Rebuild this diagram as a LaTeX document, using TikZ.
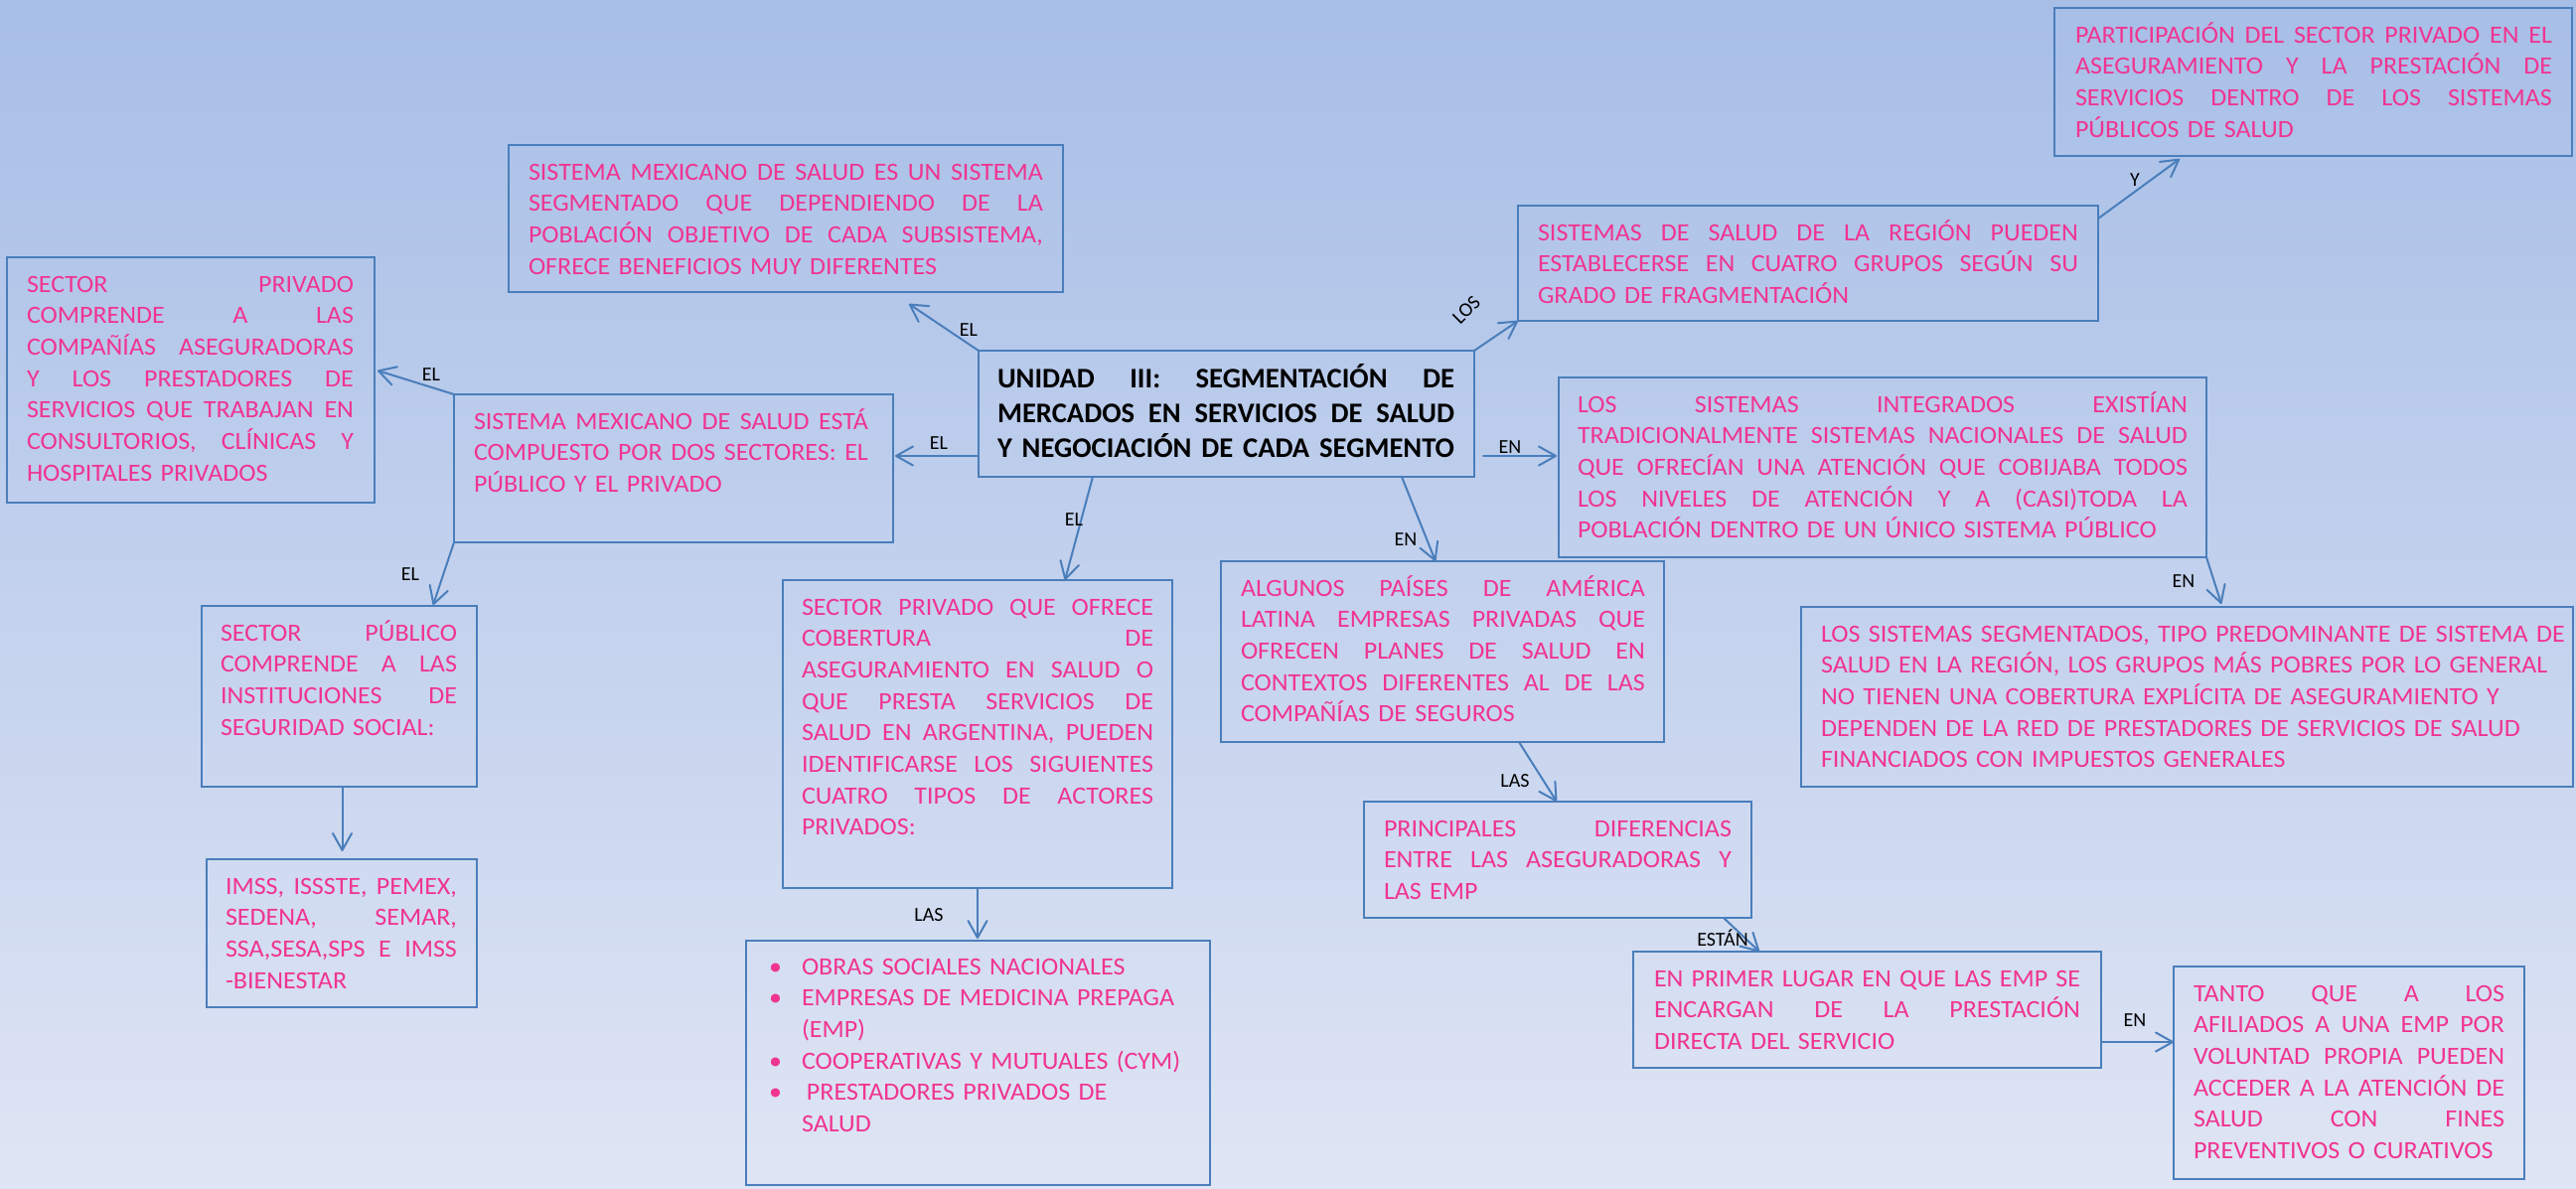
\documentclass[tikz,border=0pt]{standalone}
\usepackage{fontspec}
\setmainfont{Carlito}
\newfontfamily\bodyfam{Carlito}[FakeStretch=1.04]
\usetikzlibrary{arrows.meta,calc}
\definecolor{bgtop}{RGB}{167,190,231}
\definecolor{bgbot}{RGB}{223,229,244}
\definecolor{bline}{RGB}{74,126,187}
\definecolor{pinktxt}{RGB}{240,52,145}
\newcommand\bodyfont{\bodyfam\fontsize{12.5}{15.85}\selectfont}
\newcommand\J[1]{\noindent\hbox to \hsize{\spaceskip=0.22em plus 1fil\relax #1}\par}
\newcommand\Bul{\makebox[16.5pt][l]{•}}
\tikzset{
  boxr/.style={draw=bline, line width=0.9pt, anchor=north west, inner sep=0pt, outer sep=0pt},
  txt/.style={anchor=base west, inner sep=0pt, outer sep=0pt, text=pinktxt, font=\bodyfont},
  ttl/.style={anchor=base west, inner sep=0pt, outer sep=0pt, text=black, font=\fontsize{14.3}{17.5}\selectfont\bfseries},
  lab/.style={inner sep=0pt, text=black, font=\fontsize{10}{12}\selectfont},
  conn/.style={draw=bline, line width=1pt, line cap=round, -{Straight Barb[length=8.5pt,width=9.5pt,line width=1pt,round]}}
}
\begin{document}
\begin{tikzpicture}[x=0.5pt,y=-0.5pt]
\useasboundingbox (0,0) rectangle (2593,1196);
\shade[top color=bgtop, bottom color=bgbot] (0,0) rectangle (2593,1196);

% boxes
\node[boxr, minimum width=279pt, minimum height=74pt] (mex1) at (512,146) {};
\node[boxr, minimum width=185pt, minimum height=123.5pt] (priv) at (7,259) {};
\node[boxr, minimum width=221pt, minimum height=74.5pt] (mex2) at (457,397) {};
\node[boxr, minimum width=249.5pt, minimum height=63.5pt] (main) at (985,353) {};
\node[boxr, minimum width=292pt, minimum height=58pt] (reg) at (1528,207) {};
\node[boxr, minimum width=260.5pt, minimum height=74.5pt] (part) at (2068,8) {};
\node[boxr, minimum width=326pt, minimum height=90.5pt] (int) at (1569,380) {};
\node[boxr, minimum width=223pt, minimum height=91pt] (alg) at (1229,565) {};
\node[boxr, minimum width=388.5pt, minimum height=90.5pt] (seg) at (1813,611) {};
\node[boxr, minimum width=196pt, minimum height=155pt] (sec) at (788,584) {};
\node[boxr, minimum width=233.5pt, minimum height=123pt] (list) at (751,947) {};
\node[boxr, minimum width=138.5pt, minimum height=91pt] (pub) at (203,610) {};
\node[boxr, minimum width=136pt, minimum height=74.5pt] (imss) at (208,865) {};
\node[boxr, minimum width=195pt, minimum height=58.5pt] (dif) at (1373,807) {};
\node[boxr, minimum width=235.5pt, minimum height=58.5pt] (pri) at (1644,958) {};
\node[boxr, minimum width=176.5pt, minimum height=107pt] (tan) at (2188,973) {};

% texts
\node[txt, text width=259pt] (mex1t) at ($(mex1.north west)+(20,35)$) {\J{SISTEMA MEXICANO DE SALUD ES UN SISTEMA}\J{SEGMENTADO QUE DEPENDIENDO DE LA}\J{POBLACIÓN OBJETIVO DE CADA SUBSISTEMA,}OFRECE BENEFICIOS MUY DIFERENTES};
\node[txt, text width=164.5pt] (privt) at ($(priv.north west)+(20,35)$) {\J{SECTOR PRIVADO}\J{COMPRENDE A LAS}\J{COMPAÑÍAS ASEGURADORAS}\J{Y LOS PRESTADORES DE}\J{SERVICIOS QUE TRABAJAN EN}\J{CONSULTORIOS, CLÍNICAS Y}HOSPITALES PRIVADOS};
\node[txt, text width=198.5pt] (mex2t) at ($(mex2.north west)+(20,35)$) {\J{SISTEMA MEXICANO DE SALUD ESTÁ}\J{COMPUESTO POR DOS SECTORES: EL}PÚBLICO Y EL PRIVADO};
\node[ttl, text width=230pt] (maint) at ($(main.north west)+(19,37)$) {\J{UNIDAD III: SEGMENTACIÓN DE}\J{MERCADOS EN SERVICIOS DE SALUD}\J{Y NEGOCIACIÓN DE CADA SEGMENTO}};
\node[txt, text width=272pt] (regt) at ($(reg.north west)+(20,35)$) {\J{SISTEMAS DE SALUD DE LA REGIÓN PUEDEN}\J{ESTABLECERSE EN CUATRO GRUPOS SEGÚN SU}GRADO DE FRAGMENTACIÓN};
\node[txt, text width=240pt] (partt) at ($(part.north west)+(21,35)$) {\J{PARTICIPACIÓN DEL SECTOR PRIVADO EN EL}\J{ASEGURAMIENTO Y LA PRESTACIÓN DE}\J{SERVICIOS DENTRO DE LOS SISTEMAS}PÚBLICOS DE SALUD};
\node[txt, text width=307pt] (intt) at ($(int.north west)+(19,35)$) {\J{LOS SISTEMAS INTEGRADOS EXISTÍAN}\J{TRADICIONALMENTE SISTEMAS NACIONALES DE SALUD}\J{QUE OFRECÍAN UNA ATENCIÓN QUE COBIJABA TODOS}\J{LOS NIVELES DE ATENCIÓN Y A (CASI)TODA LA}POBLACIÓN DENTRO DE UN ÚNICO SISTEMA PÚBLICO};
\node[txt, text width=203.5pt] (algt) at ($(alg.north west)+(20,35)$) {\J{ALGUNOS PAÍSES DE AMÉRICA}\J{LATINA EMPRESAS PRIVADAS QUE}\J{OFRECEN PLANES DE SALUD EN}\J{CONTEXTOS DIFERENTES AL DE LAS}COMPAÑÍAS DE SEGUROS};
\node[txt, text width=384pt] (segt) at ($(seg.north west)+(20,35)$) {LOS SISTEMAS SEGMENTADOS, TIPO PREDOMINANTE DE SISTEMA DE\par SALUD EN LA REGIÓN, LOS GRUPOS MÁS POBRES POR LO GENERAL\par NO TIENEN UNA COBERTURA EXPLÍCITA DE ASEGURAMIENTO Y\par DEPENDEN DE LA RED DE PRESTADORES DE SERVICIOS DE SALUD\par FINANCIADOS CON IMPUESTOS GENERALES};
\node[txt, text width=177pt] (sect) at ($(sec.north west)+(19,35)$) {\J{SECTOR PRIVADO QUE OFRECE}\J{COBERTURA DE}\J{ASEGURAMIENTO EN SALUD O}\J{QUE PRESTA SERVICIOS DE}\J{SALUD EN ARGENTINA, PUEDEN}\J{IDENTIFICARSE LOS SIGUIENTES}\J{CUATRO TIPOS DE ACTORES}PRIVADOS:};
\node[txt, text width=220pt] (listt) at ($(list.north west)+(23,34)$) {\Bul OBRAS SOCIALES NACIONALES\par \Bul EMPRESAS DE MEDICINA PREPAGA\par \hspace*{16.5pt}(EMP)\par \Bul COOPERATIVAS Y MUTUALES (CYM)\par \Bul\hspace*{2.5pt}PRESTADORES PRIVADOS DE\par \hspace*{16.5pt}SALUD};
\node[txt, text width=119pt] (pubt) at ($(pub.north west)+(19,35)$) {\J{SECTOR PÚBLICO}\J{COMPRENDE A LAS}\J{INSTITUCIONES DE}SEGURIDAD SOCIAL:};
\node[txt, text width=116.5pt] (imsst) at ($(imss.north west)+(19,35)$) {\J{IMSS, ISSSTE, PEMEX,}\J{SEDENA, SEMAR,}\J{SSA,SESA,SPS E IMSS}-BIENESTAR};
\node[txt, text width=175pt] (dift) at ($(dif.north west)+(20,35)$) {\J{PRINCIPALES DIFERENCIAS}\J{ENTRE LAS ASEGURADORAS Y}LAS EMP};
\node[txt, text width=214.5pt] (prit) at ($(pri.north west)+(21,35)$) {\J{EN PRIMER LUGAR EN QUE LAS EMP SE}\J{ENCARGAN DE LA PRESTACIÓN}DIRECTA DEL SERVICIO};
\node[txt, text width=156.5pt] (tant) at ($(tan.north west)+(20,35)$) {\J{TANTO QUE A LOS}\J{AFILIADOS A UNA EMP POR}\J{VOLUNTAD PROPIA PUEDEN}\J{ACCEDER A LA ATENCIÓN DE}\J{SALUD CON FINES}PREVENTIVOS O CURATIVOS};

% connectors
\draw[conn] (main.north west) -- ($(mex1.south west)+(403,12)$);
\draw[conn] (mex2.north west) -- ($(priv.north east)+(3,114)$);
\draw[conn] ($(main.south west)+(0,-21)$) -- ($(mex2.south east)+(2,-87)$);
\draw[conn] ($(main.south west)+(115,0)$) -- ($(sec.north west)+(284,0)$);
\draw[conn] ($(main.south west)+(426,0)$) -- ($(alg.north west)+(216,0)$);
\draw[conn] (main.north east) -- (reg.south west);
\draw[conn] ($(main.south east)+(9,-21)$) -- ($(int.north west)+(-2,79)$);
\draw[conn] ($(reg.north east)+(0,13)$) -- ($(part.south west)+(126,3)$);
\draw[conn] (int.south east) -- ($(seg.north west)+(423,-3)$);
\draw[conn] (mex2.south west) -- ($(pub.north west)+(233,-1)$);
\draw[conn] ($(pub.south)+(3,0)$) -- ($(pub.south |- imss.north)+(3,-8)$);
\draw[conn] (sec.south) -- ($(sec.south |- list.north)+(0,-2)$);
\draw[conn] ($(alg.south west)+(300,0)$) -- ($(dif.north west)+(194,0)$);
\draw[conn] ($(dif.south west)+(362,0)$) -- ($(pri.north west)+(127,0)$);
\draw[conn] ($(pri.south east)+(0,-26)$) -- ($(tan.south west)+(0,-138)$);

% labels
\node[lab] (l1) at (975,332) {EL};
\node[lab] (l2) at (434,377) {EL};
\node[lab] (l3) at (945,446) {EL};
\node[lab] (l4) at (1081,523) {EL};
\node[lab] (l5) at (413,578) {EL};
\node[lab] (l6) at (935,921) {LAS};
\node[lab, rotate=45] (l7) at (1476,312) {LOS};
\node[lab] (l8) at (2149,181) {Y};
\node[lab] (l9) at (1520,450) {EN};
\node[lab] (l10) at (1415,543) {EN};
\node[lab] (l11) at (2198,585) {EN};
\node[lab] (l12) at (1525,786) {LAS};
\node[lab] (l13) at (1734,944) {ESTÁN};
\node[lab] (l14) at (2149,1027) {EN};
\end{tikzpicture}
\end{document}
